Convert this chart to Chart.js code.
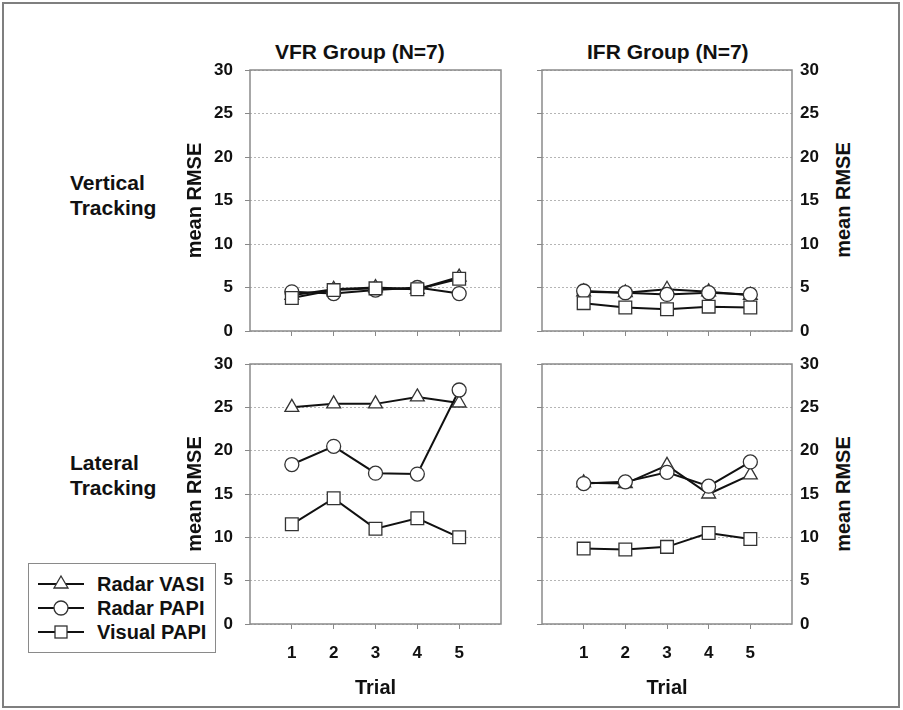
<!DOCTYPE html>
<html>
<head>
<meta charset="utf-8">
<script src="https://cdn.jsdelivr.net/npm/chart.js@4"></script>
<style>
  body { margin: 0; background: #fff; font-family: "Liberation Sans", Arial, sans-serif; font-weight: bold; color: #111; }
  #fig { position: relative; width: 903px; height: 710px; overflow: hidden; }
  #outer { position: absolute; left: 2px; top: 2px; width: 898px; height: 706px; border: 2px solid #7f7f7f; box-sizing: border-box; }
  canvas { position: absolute; }
  .lbl { position: absolute; white-space: nowrap; font-size: 21px; }
  .rot { position: absolute; white-space: nowrap; font-size: 20px; transform: translate(-50%, -50%) rotate(-90deg); }
  #legend { position: absolute; left: 28px; top: 563px; width: 188px; height: 90px; border: 1.5px solid #8a8a8a; box-sizing: border-box; background: #fff; }
  .row { position: absolute; left: 8px; height: 24px; display: flex; align-items: center; font-size: 20px; }
  .row svg { margin-right: 12px; }
</style>
</head>
<body>
<div id="fig">
  <div id="outer"></div>
  <div class="lbl" style="left:275px; top:40px;">VFR Group (N=7)</div>
  <div class="lbl" style="left:587px; top:40px;">IFR Group (N=7)</div>
  <div class="lbl" style="left:70px; top:170px; line-height:25px;">Vertical<br>Tracking</div>
  <div class="lbl" style="left:70px; top:450px; line-height:25px;">Lateral<br>Tracking</div>
  <div class="rot" style="left:843px; top:200px;">mean RMSE</div>
  <div class="rot" style="left:843px; top:494px;">mean RMSE</div>

  <canvas id="tl" width="340" height="286" style="left:170px; top:55px;"></canvas>
  <canvas id="tr" width="293" height="286" style="left:537px; top:55px;"></canvas>
  <canvas id="bl" width="340" height="361" style="left:170px; top:349px;"></canvas>
  <canvas id="br" width="293" height="361" style="left:537px; top:349px;"></canvas>

  <div id="legend">
    <div class="row" style="top:8px;"><svg width="48" height="20"><line x1="1" y1="10" x2="47" y2="10" stroke="#111" stroke-width="2"/><polygon points="24,2 31,14 17,14" fill="#fff" stroke="#333" stroke-width="1.3"/></svg>Radar VASI</div>
    <div class="row" style="top:32px;"><svg width="48" height="20"><line x1="1" y1="10" x2="47" y2="10" stroke="#111" stroke-width="2"/><circle cx="24" cy="10" r="7" fill="#fff" stroke="#333" stroke-width="1.3"/></svg>Radar PAPI</div>
    <div class="row" style="top:56px;"><svg width="48" height="20"><line x1="1" y1="10" x2="47" y2="10" stroke="#111" stroke-width="2"/><rect x="18" y="4" width="12" height="12" fill="#fff" stroke="#333" stroke-width="1.3"/></svg>Visual PAPI</div>
  </div>
</div>

<script>
// trials on the x axis
const trials = [1, 2, 3, 4, 5];
const yTicks = [0, 5, 10, 15, 20, 25, 30];

// VFR group, vertical tracking
const vfrVertRadarVasi = [4.1, 4.8, 5.0, 4.8, 6.2];
const vfrVertRadarPapi = [4.5, 4.3, 4.7, 5.0, 4.3];
const vfrVertVisualPapi = [3.8, 4.7, 4.9, 4.8, 6.0];

// IFR group, vertical tracking
const ifrVertRadarVasi = [4.5, 4.4, 4.8, 4.5, 4.1];
const ifrVertRadarPapi = [4.6, 4.4, 4.2, 4.4, 4.2];
const ifrVertVisualPapi = [3.2, 2.7, 2.5, 2.8, 2.7];

// VFR group, lateral tracking
const vfrLatRadarVasi = [25.0, 25.4, 25.4, 26.2, 25.5];
const vfrLatRadarPapi = [18.4, 20.5, 17.4, 17.3, 27.0];
const vfrLatVisualPapi = [11.5, 14.5, 11.0, 12.2, 10.0];

// IFR group, lateral tracking
const ifrLatRadarVasi = [16.3, 16.2, 18.3, 15.0, 17.2];
const ifrLatRadarPapi = [16.2, 16.4, 17.5, 15.9, 18.7];
const ifrLatVisualPapi = [8.7, 8.6, 8.9, 10.5, 9.8];

const FONT = 'Liberation Sans, Arial, sans-serif';
const tickFont = { family: FONT, size: 17, weight: 'bold' };
const titleFont = { family: FONT, size: 20, weight: 'bold' };

// box around each plot area
const framePlugin = {
    id: 'frame',
    afterDraw(chart) {
        const a = chart.chartArea;
        const ctx = chart.ctx;
        ctx.save();
        ctx.strokeStyle = '#8a8a8a';
        ctx.lineWidth = 1.5;
        ctx.strokeRect(a.left, a.top, a.right - a.left, a.bottom - a.top);
        ctx.restore();
    }
};

function pts(vals) {
    return trials.map((t, i) => ({ x: t, y: vals[i] }));
}

// fixed axis size, no extra label padding pushed into the plot area
function fixSize(w, h) {
    return s => {
        if (w !== null) s.width = w;
        if (h !== null) s.height = h;
        s.paddingTop = s.paddingBottom = s.paddingLeft = s.paddingRight = 0;
    };
}

function series(vasi, papi, visual) {
    const base = { borderColor: '#111', borderWidth: 2, pointBackgroundColor: '#fff',
                   pointBorderColor: '#333', pointBorderWidth: 1.3, clip: false, tension: 0 };
    return [
        Object.assign({}, base, { label: 'Radar VASI', data: pts(vasi), pointStyle: 'triangle', pointRadius: 8, order: 3 }),
        Object.assign({}, base, { label: 'Radar PAPI', data: pts(papi), pointStyle: 'circle', pointRadius: 7, order: 2 }),
        Object.assign({}, base, { label: 'Visual PAPI', data: pts(visual), pointStyle: 'rect', pointRadius: 9, order: 1 })
    ];
}

function makePanel(id, datasets, leftSide, bottomRow) {
    const scales = {
        x: {
            type: 'linear', min: 0, max: 6,
            afterBuildTicks: s => { s.ticks = trials.map(v => ({ value: v })); },
            ticks: { display: bottomRow, padding: 14, font: tickFont, color: '#111' },
            grid: { drawOnChartArea: false, tickLength: 5, tickColor: '#888', lineWidth: 1 },
            border: { display: false },
            title: { display: bottomRow, text: 'Trial', font: titleFont, color: '#111', padding: { top: 0, bottom: 10 } },
            afterFit: fixSize(null, bottomRow ? 86 : 10)
        },
        y: {
            position: 'left', min: 0, max: 30,
            afterBuildTicks: s => { s.ticks = yTicks.map(v => ({ value: v })); },
            ticks: { display: leftSide, padding: 12, font: tickFont, color: '#111' },
            grid: { color: '#b5b5b5', lineWidth: 1, tickLength: 5, tickColor: '#888' },
            border: { display: false, dash: [2, 2] },
            title: { display: leftSide, text: 'mean RMSE', font: titleFont, color: '#111', padding: { top: 13, bottom: 0 } },
            afterFit: fixSize(leftSide ? 80 : 5, null)
        }
    };
    if (!leftSide) {
        scales.y2 = {
            position: 'right', min: 0, max: 30,
            afterBuildTicks: s => { s.ticks = yTicks.map(v => ({ value: v })); },
            ticks: { padding: 8, font: tickFont, color: '#111' },
            grid: { display: false, drawTicks: false },
            border: { display: false },
            afterFit: fixSize(38, null)
        };
    }
    new Chart(document.getElementById(id), {
        type: 'line',
        data: { datasets: datasets },
        options: {
            responsive: false,
            animation: false,
            layout: { autoPadding: false, padding: { top: 15, left: 0, right: leftSide ? 9 : 0, bottom: 0 } },
            plugins: { legend: { display: false }, tooltip: { enabled: false } },
            scales: scales
        },
        plugins: [framePlugin]
    });
}

makePanel('tl', series(vfrVertRadarVasi, vfrVertRadarPapi, vfrVertVisualPapi), true, false);
makePanel('tr', series(ifrVertRadarVasi, ifrVertRadarPapi, ifrVertVisualPapi), false, false);
makePanel('bl', series(vfrLatRadarVasi, vfrLatRadarPapi, vfrLatVisualPapi), true, true);
makePanel('br', series(ifrLatRadarVasi, ifrLatRadarPapi, ifrLatVisualPapi), false, true);
</script>
</body>
</html>
